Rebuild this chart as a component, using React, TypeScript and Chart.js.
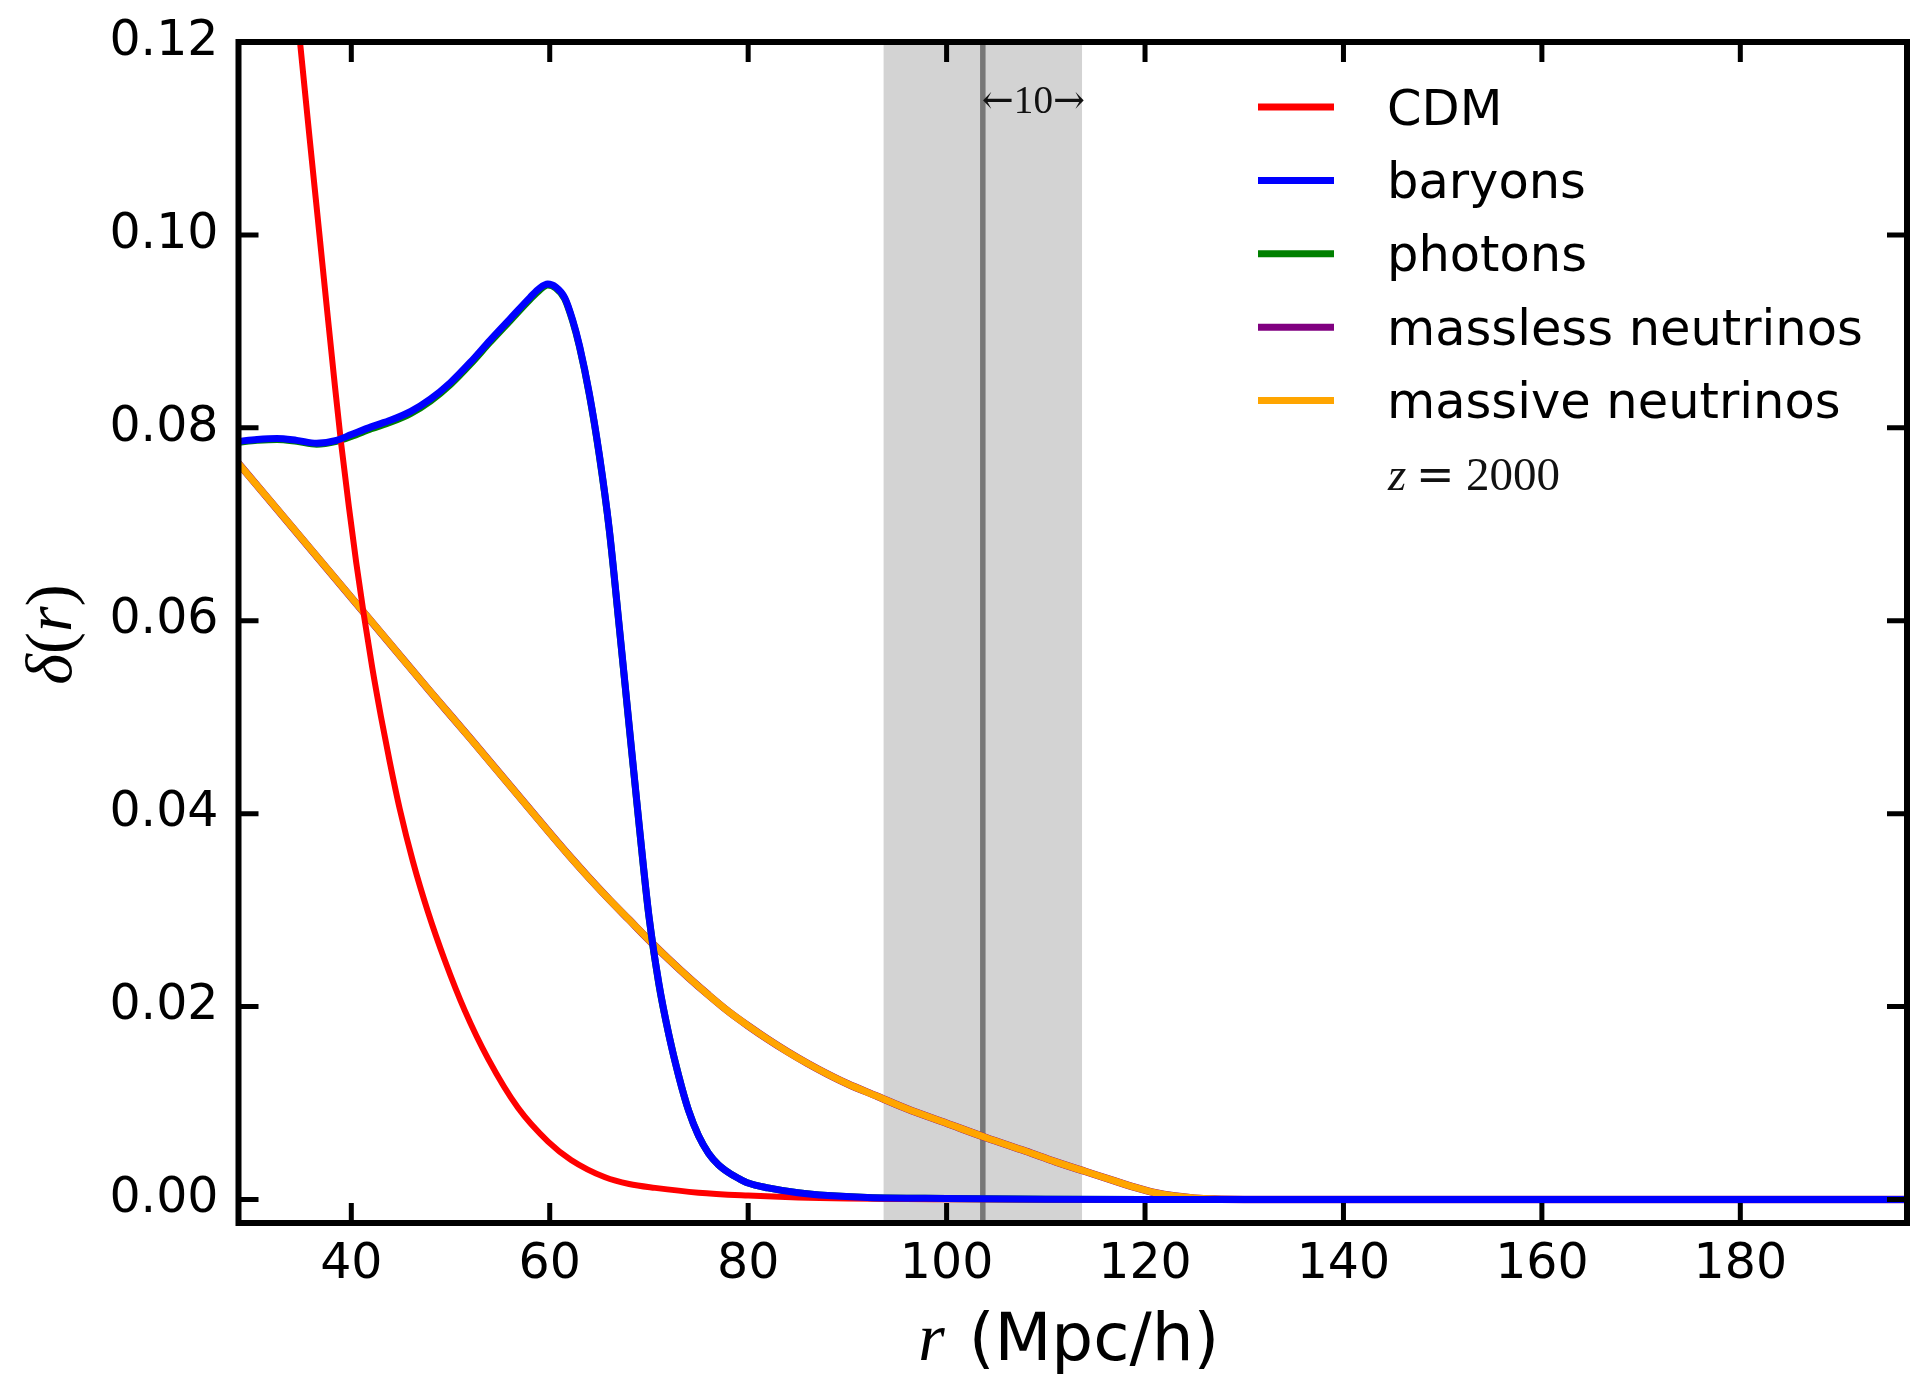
import React, { useEffect, useRef } from 'react';
import { Chart, registerables } from 'chart.js';

Chart.register(...registerables);

// ---------------- data ----------------
const X_MIN = 28.63;
const X_MAX = 196.8;
const Y_MIN = -0.00244;
const Y_MAX = 0.12;
const X_TICKS = [40, 60, 80, 100, 120, 140, 160, 180];
const Y_TICKS = [0, 0.02, 0.04, 0.06, 0.08, 0.1, 0.12];

const cdmR = [34.1, 34.83, 35.8, 36.79, 37.5, 38.26, 38.96, 39.77, 40.5, 41.28, 42.1, 43.0, 43.87, 44.88, 46.22, 47.73, 49.42, 51.43, 53.78, 56.8, 59.83, 62.15, 65.58, 68, 70.62, 75, 80, 85, 90, 100, 120, 196.8];
const cdmDelta = [0.1275, 0.12, 0.11, 0.1, 0.0928, 0.0852, 0.0785, 0.0717, 0.066, 0.0605, 0.0552, 0.05, 0.0454, 0.0405, 0.035, 0.0298, 0.0248, 0.0196, 0.0146, 0.0095, 0.006, 0.0041, 0.0023, 0.0016, 0.0012, 0.0007, 0.0004, 0.0002, 0.0001, 0.00003, 0, 0];

const baryonR = [28.63, 30.5, 32.5, 34.5, 36.5, 38.5, 40, 42, 44, 46, 48, 50, 52, 54, 56, 58, 59, 59.8, 60.6, 61.5, 62.3, 63, 64, 65, 66, 67, 68, 69, 70, 71, 72, 73, 74, 75, 76, 77, 78, 79, 80, 82, 85, 88, 92, 100, 110, 120, 196.8];
const baryonDelta = [0.0786, 0.0788, 0.0789, 0.0787, 0.0784, 0.0787, 0.0793, 0.0801, 0.0808, 0.0817, 0.083, 0.0847, 0.0868, 0.0891, 0.0913, 0.0935, 0.0945, 0.0949, 0.0946, 0.0935, 0.0912, 0.0885, 0.0835, 0.0772, 0.0695, 0.0595, 0.0492, 0.039, 0.0294, 0.0224, 0.0171, 0.0128, 0.0092, 0.0066, 0.0048, 0.0036, 0.0028, 0.0022, 0.0017, 0.0012, 0.0007, 0.0004, 0.0002, 0.0001, 0.00003, 0, 0];
const photonDelta = [0.0785, 0.0787, 0.0788, 0.0786, 0.0783, 0.0786, 0.0791, 0.0799, 0.0806, 0.0815, 0.0828, 0.0845, 0.0866, 0.0889, 0.0911, 0.0933, 0.0943, 0.0948, 0.0945, 0.0934, 0.0911, 0.0884, 0.0834, 0.0771, 0.0694, 0.0594, 0.0491, 0.0389, 0.0293, 0.0223, 0.0171, 0.0128, 0.0092, 0.0066, 0.0048, 0.0036, 0.0028, 0.0022, 0.0017, 0.0012, 0.0007, 0.0004, 0.0002, 0.0001, 0.00003, 0, 0];

const nuR = [28.63, 32, 36, 40, 44, 48, 52, 56, 60, 62, 64, 66, 68, 70, 72, 74, 76, 78, 80, 82, 84, 86, 88, 90, 93, 96, 100, 104, 108, 111, 114, 117, 119, 121, 123, 125, 127, 130, 196.8];
const masslessDelta = [0.0763, 0.0722, 0.0673, 0.0624, 0.0575, 0.0526, 0.0478, 0.0429, 0.038, 0.0356, 0.0333, 0.0311, 0.029, 0.0269, 0.0249, 0.023, 0.0212, 0.0195, 0.018, 0.0166, 0.0153, 0.0141, 0.013, 0.012, 0.0107, 0.0094, 0.0079, 0.0064, 0.005, 0.0039, 0.0029, 0.0019, 0.00125, 0.0007, 0.00035, 0.00014, 0.00004, 0, 0];
const massiveDelta = [0.0763, 0.0722, 0.0673, 0.0624, 0.0575, 0.0526, 0.0478, 0.0429, 0.038, 0.0356, 0.0333, 0.0311, 0.029, 0.0269, 0.0249, 0.023, 0.0212, 0.0195, 0.018, 0.0166, 0.0153, 0.0141, 0.013, 0.012, 0.0107, 0.0094, 0.0079, 0.0064, 0.005, 0.0039, 0.0029, 0.0019, 0.00125, 0.0007, 0.00035, 0.00014, 0.00004, 0, 0];

const SERIES_NAMES = ['CDM', 'baryons', 'photons', 'massless neutrinos', 'massive neutrinos'];
const SERIES_COLORS = ['#ff0000', '#0000ff', '#008000', '#800080', '#ffa500'];

const BAO_CENTER = 103.65;
const BAO_HALF = 10;
const ARROW_LEFT = '\u2190';
const ARROW_RIGHT = '\u2192';
const ANNOTATION_VALUE = '10';
const REDSHIFT_VAR = 'z';
const REDSHIFT_VALUE = '2000';
const X_TITLE_VAR = 'r';
const X_TITLE_UNIT = '(Mpc/h)';
const Y_TITLE_VAR = '\u03b4';

// ---------------- styling ----------------
const SANS = "'DejaVu Sans', sans-serif";
const SERIF = "'Liberation Serif', 'DejaVu Serif', serif";
const DSERIF = "'DejaVu Serif', serif";

const pts = (xs: number[], ys: number[]) => xs.map((x, i) => ({ x, y: ys[i] }));

const decorPlugin = {
  id: 'mplDecor',
  beforeDatasetsDraw(chart: any) {
    const { ctx, chartArea: a, scales } = chart;
    const x = scales.x;
    ctx.save();
    const l = x.getPixelForValue(BAO_CENTER - BAO_HALF);
    const r = x.getPixelForValue(BAO_CENTER + BAO_HALF);
    ctx.fillStyle = '#d3d3d3';
    ctx.fillRect(l, a.top, r - l, a.bottom - a.top);
    const c = x.getPixelForValue(BAO_CENTER);
    ctx.strokeStyle = '#777777';
    ctx.lineWidth = 5.5;
    ctx.beginPath();
    ctx.moveTo(c, a.top);
    ctx.lineTo(c, a.bottom);
    ctx.stroke();
    ctx.restore();
  },
  afterDatasetsDraw(chart: any) {
    const { ctx, chartArea: a, scales } = chart;
    const x = scales.x;
    const y = scales.y;
    ctx.save();
    ctx.strokeStyle = '#000';
    ctx.lineWidth = 5;
    ctx.lineCap = 'butt';
    const TL = 20;
    ctx.beginPath();
    x.ticks.forEach((t: any) => {
      const px = x.getPixelForValue(t.value);
      ctx.moveTo(px, a.bottom);
      ctx.lineTo(px, a.bottom - TL);
      ctx.moveTo(px, a.top);
      ctx.lineTo(px, a.top + TL);
    });
    y.ticks.forEach((t: any) => {
      const py = y.getPixelForValue(t.value);
      ctx.moveTo(a.left, py);
      ctx.lineTo(a.left + TL, py);
      ctx.moveTo(a.right, py);
      ctx.lineTo(a.right - TL, py);
    });
    ctx.stroke();
    ctx.lineWidth = 6;
    ctx.lineJoin = 'miter';
    ctx.strokeRect(a.left, a.top, a.right - a.left, a.bottom - a.top);
    ctx.restore();
  },
  afterDraw(chart: any) {
    const { ctx, chartArea: a, scales } = chart;
    const x = scales.x;
    ctx.save();
    ctx.textAlign = 'left';
    ctx.textBaseline = 'alphabetic';

    // annotation  <-10->
    const c = x.getPixelForValue(BAO_CENTER);
    const target = x.getPixelForValue(BAO_CENTER + BAO_HALF) - c + 4;
    const arrowFont = `40px ${DSERIF}`;
    const numFont = `41px ${SERIF}`;
    ctx.fillStyle = '#111';
    ctx.font = arrowFont;
    const wl = ctx.measureText(ARROW_LEFT).width;
    const wrr = ctx.measureText(ARROW_RIGHT).width;
    ctx.font = numFont;
    const wn = ctx.measureText(ANNOTATION_VALUE).width;
    const aw = wl + wn + wrr;
    ctx.save();
    ctx.translate(c - 1, a.top + 71);
    ctx.scale(target / aw, 1);
    ctx.font = arrowFont;
    ctx.fillText(ARROW_LEFT, 0, 0);
    ctx.font = numFont;
    ctx.fillText(ANNOTATION_VALUE, wl, 0);
    ctx.font = arrowFont;
    ctx.fillText(ARROW_RIGHT, wl + wn, 0);
    ctx.restore();

    // legend
    const lx0 = a.right - 649;
    const lx1 = a.right - 573;
    const tx = a.right - 520;
    SERIES_NAMES.forEach((name, i) => {
      const ry = a.top + 65 + i * 73.4;
      ctx.strokeStyle = SERIES_COLORS[i];
      ctx.lineWidth = 7;
      ctx.beginPath();
      ctx.moveTo(lx0, ry);
      ctx.lineTo(lx1, ry);
      ctx.stroke();
      ctx.fillStyle = '#000';
      ctx.font = `49.5px ${SANS}`;
      ctx.fillText(name, tx, ry + 17.5);
    });

    // z = 2000
    const zb = a.top + 448;
    ctx.fillStyle = '#111';
    ctx.font = `italic 47px ${SERIF}`;
    ctx.fillText(REDSHIFT_VAR, tx + 1, zb);
    ctx.font = `46px ${DSERIF}`;
    ctx.fillText('=', tx + 29, zb);
    ctx.font = `47px ${SERIF}`;
    ctx.fillText(REDSHIFT_VALUE, tx + 79, zb);

    // x title
    ctx.fillStyle = '#000';
    const rFont = `italic 68px ${SERIF}`;
    const uFont = `66px ${SANS}`;
    ctx.font = rFont;
    const wr = ctx.measureText(X_TITLE_VAR).width;
    ctx.font = uFont;
    const wu = ctx.measureText(X_TITLE_UNIT).width;
    const gap = 24;
    const total = wr + gap + wu;
    const cx = (a.left + a.right) / 2 - 4;
    const bx = a.bottom + 137;
    const sx = cx - total / 2;
    ctx.font = rFont;
    ctx.fillText(X_TITLE_VAR, sx, bx);
    ctx.font = uFont;
    ctx.fillText(X_TITLE_UNIT, sx + wr + gap, bx);

    // y title  delta(r)
    const parts: [string, string][] = [
      [Y_TITLE_VAR, `italic 66px ${SERIF}`],
      ['(', `66px ${SERIF}`],
      [X_TITLE_VAR, `italic 66px ${SERIF}`],
      [')', `66px ${SERIF}`],
    ];
    const widths = parts.map(([s, f]) => {
      ctx.font = f;
      return ctx.measureText(s).width;
    });
    const tot = widths.reduce((p, q) => p + q, 0);
    ctx.save();
    ctx.translate(71, (a.top + a.bottom) / 2 + 2);
    ctx.rotate(-Math.PI / 2);
    let px = -tot / 2;
    parts.forEach(([s, f], i) => {
      ctx.font = f;
      ctx.fillText(s, px, 0);
      px += widths[i];
    });
    ctx.restore();

    ctx.restore();
  },
};

export default function App() {
  const ref = useRef<HTMLCanvasElement>(null);

  useEffect(() => {
    document.body.style.margin = '0';
    const canvas = ref.current;
    if (!canvas) return;
    const common = {
      pointRadius: 0,
      pointHoverRadius: 0,
      fill: false,
      cubicInterpolationMode: 'monotone' as const,
      borderJoinStyle: 'round' as const,
      borderCapStyle: 'round' as const,
    };
    const chart = new Chart(canvas, {
      type: 'line',
      data: {
        datasets: [
          { label: SERIES_NAMES[0], data: pts(cdmR, cdmDelta), borderColor: SERIES_COLORS[0], borderWidth: 6, order: 2, ...common },
          { label: SERIES_NAMES[1], data: pts(baryonR, baryonDelta), borderColor: SERIES_COLORS[1], borderWidth: 7, order: 1, ...common },
          { label: SERIES_NAMES[2], data: pts(baryonR, photonDelta), borderColor: SERIES_COLORS[2], borderWidth: 7, order: 3, ...common },
          { label: SERIES_NAMES[3], data: pts(nuR, masslessDelta), borderColor: SERIES_COLORS[3], borderWidth: 7.5, order: 5, ...common },
          { label: SERIES_NAMES[4], data: pts(nuR, massiveDelta), borderColor: SERIES_COLORS[4], borderWidth: 7, order: 4, ...common },
        ],
      },
      options: {
        responsive: false,
        animation: false,
        devicePixelRatio: 1,
        events: [],
        layout: { padding: { left: 0, top: 42, right: 6, bottom: 0 } },
        plugins: {
          legend: { display: false },
          tooltip: { enabled: false },
          title: { display: false },
        },
        scales: {
          x: {
            type: 'linear',
            position: 'bottom',
            min: X_MIN,
            max: X_MAX,
            afterBuildTicks: (s: any) => {
              s.ticks = X_TICKS.map((v) => ({ value: v }));
            },
            afterFit: (s: any) => {
              s.height = 151;
              s.paddingLeft = 0;
              s.paddingRight = 0;
            },
            grid: { display: false, drawTicks: false },
            border: { display: false },
            ticks: {
              autoSkip: false,
              maxRotation: 0,
              minRotation: 0,
              padding: 13,
              color: '#000',
              font: { family: SANS, size: 49 },
              callback: (v: any) => String(v),
            },
          },
          y: {
            type: 'linear',
            position: 'left',
            min: Y_MIN,
            max: Y_MAX,
            afterBuildTicks: (s: any) => {
              s.ticks = Y_TICKS.map((v) => ({ value: v }));
            },
            afterFit: (s: any) => {
              s.width = 238.5;
              s.paddingTop = 0;
              s.paddingBottom = 0;
            },
            grid: { display: false, drawTicks: false },
            border: { display: false },
            ticks: {
              autoSkip: false,
              padding: 20,
              color: '#000',
              font: { family: SANS, size: 49 },
              callback: (v: any) => Number(v).toFixed(2),
            },
          },
        },
      },
      plugins: [decorPlugin],
    } as any);
    return () => chart.destroy();
  }, []);

  return (
    <div style={{ position: 'absolute', left: 0, top: 0, width: 1913, height: 1374, background: '#fff', overflow: 'hidden' }}>
      <canvas ref={ref} width={1913} height={1374} style={{ display: 'block', width: '1913px', height: '1374px' }} />
    </div>
  );
}
